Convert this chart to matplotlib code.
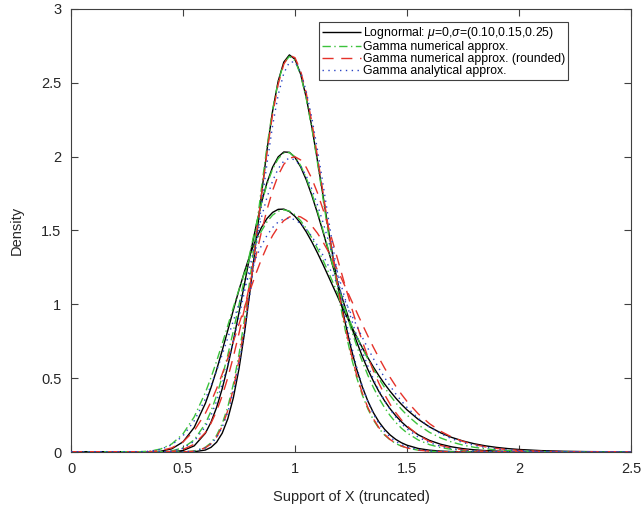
import matplotlib
matplotlib.use('Agg')
import matplotlib.pyplot as plt

# ---------------- data ----------------
x_support = [0, 0.3, 0.35, 0.4, 0.45, 0.5, 0.55,
             0.6, 0.625, 0.65, 0.675, 0.7, 0.725, 0.75, 0.775, 0.8, 0.825, 0.85, 0.875,
             0.9, 0.925, 0.95, 0.975, 1.0, 1.025, 1.05, 1.075, 1.1, 1.125, 1.15, 1.175,
             1.2, 1.225, 1.25, 1.275, 1.3, 1.325, 1.35, 1.375, 1.4, 1.425, 1.45, 1.475, 1.5,
             1.55, 1.6, 1.65, 1.7, 1.75, 1.8, 1.85, 1.9, 1.95, 2.0,
             2.1, 2.2, 2.3, 2.5]

# Lognormal (black, solid) - narrow, middle, wide curves
lognormal_narrow = [0, 0, 0, 0, 0, 0.0001, 0.0017,
    0.0134, 0.0314, 0.0662, 0.1272, 0.2248, 0.3685, 0.5637, 0.8100, 1.0996, 1.4165, 1.7398, 2.0453,
    2.3091, 2.5120, 2.6406, 2.6892, 2.6596, 2.5598, 2.4025, 2.2026, 1.9759, 1.7371, 1.4984, 1.2700,
    1.0588, 0.8694, 0.7036, 0.5619, 0.4432, 0.3455, 0.2663, 0.2031, 0.1535, 0.1149, 0.0853, 0.0628, 0.0459,
    0.0240, 0.0123, 0.0061, 0.0030, 0.0014, 0.0007, 0.0003, 0.0001, 0.0001, 0,
    0, 0, 0, 0]
lognormal_middle = [0, 0, 0, 0.0001, 0.0015, 0.0098, 0.0416,
    0.1274, 0.2017, 0.3017, 0.4285, 0.5811, 0.7554, 0.9452, 1.1426, 1.3381, 1.5223, 1.6869, 1.8243,
    1.9292, 1.9987, 2.0318, 2.0296, 1.9947, 1.9313, 1.8440, 1.7381, 1.6187, 1.4908, 1.3587, 1.2264,
    1.0971, 0.9731, 0.8564, 0.7481, 0.6491, 0.5595, 0.4794, 0.4084, 0.3461, 0.2918, 0.2449, 0.2047, 0.1703,
    0.1166, 0.0788, 0.0526, 0.0348, 0.0227, 0.0148, 0.0095, 0.0061, 0.0039, 0.0025,
    0.0010, 0.0004, 0.0002, 0]
lognormal_wide = [0, 0.0001, 0.0007, 0.0048, 0.0216, 0.0683, 0.1663,
    0.3298, 0.4361, 0.5563, 0.6870, 0.8240, 0.9624, 1.0974, 1.2245, 1.3393, 1.4386, 1.5198, 1.5813,
    1.6224, 1.6433, 1.6448, 1.6283, 1.5958, 1.5493, 1.4911, 1.4236, 1.3490, 1.2695, 1.1869, 1.1030,
    1.0193, 0.9370, 0.8571, 0.7805, 0.7078, 0.6392, 0.5751, 0.5157, 0.4608, 0.4105, 0.3647, 0.3231, 0.2855,
    0.2215, 0.1704, 0.1301, 0.0987, 0.0745, 0.0559, 0.0418, 0.0311, 0.0231, 0.0171,
    0.0093, 0.0050, 0.0027, 0.0008]

# Gamma numerical approx. (green, dash-dot)
gamma_num_narrow = [0, 0, 0, 0, 0.0001, 0.0010, 0.0068,
    0.0322, 0.0625, 0.1128, 0.1912, 0.3052, 0.4610, 0.6616, 0.9047, 1.1826, 1.4818, 1.7844, 2.0697,
    2.3170, 2.5089, 2.6320, 2.6794, 2.6513, 2.5534, 2.3963, 2.1945, 1.9632, 1.7173, 1.4705, 1.2337,
    1.0149, 0.8194, 0.6496, 0.5063, 0.3880, 0.2926, 0.2173, 0.1590, 0.1147, 0.0816, 0.0573, 0.0397, 0.0272,
    0.0123, 0.0053, 0.0022, 0.0009, 0.0003, 0.0001, 0, 0, 0, 0,
    0, 0, 0, 0]
gamma_num_middle = [0, 0, 0.0002, 0.0016, 0.0077, 0.0284, 0.0818,
    0.1924, 0.2765, 0.3820, 0.5093, 0.6568, 0.8210, 0.9970, 1.1786, 1.3584, 1.5289, 1.6827, 1.8136,
    1.9161, 1.9869, 2.0240, 2.0274, 1.9986, 1.9405, 1.8570, 1.7528, 1.6329, 1.5022, 1.3654, 1.2270,
    1.0904, 0.9590, 0.8348, 0.7198, 0.6148, 0.5204, 0.4367, 0.3634, 0.3000, 0.2458, 0.1999, 0.1613, 0.1294,
    0.0815, 0.0500, 0.0300, 0.0176, 0.0101, 0.0057, 0.0031, 0.0017, 0.0009, 0.0005,
    0.0001, 0, 0, 0]
gamma_num_wide = [0, 0.0012, 0.0058, 0.0200, 0.0546, 0.1230, 0.2374,
    0.4031, 0.5041, 0.6149, 0.7332, 0.8559, 0.9798, 1.1012, 1.2167, 1.3228, 1.4168, 1.4961, 1.5590,
    1.6041, 1.6311, 1.6400, 1.6314, 1.6065, 1.5669, 1.5142, 1.4507, 1.3782, 1.2991, 1.2151, 1.1283,
    1.0405, 0.9531, 0.8675, 0.7847, 0.7056, 0.6309, 0.5610, 0.4963, 0.4367, 0.3825, 0.3333, 0.2892, 0.2498,
    0.1840, 0.1334, 0.0953, 0.0671, 0.0466, 0.0320, 0.0217, 0.0145, 0.0096, 0.0063,
    0.0027, 0.0011, 0.0004, 0.0001]

# Gamma numerical approx. rounded (red, dashed)
gamma_round_narrow = [0, 0, 0, 0, 0.0001, 0.0008, 0.0057,
    0.0281, 0.0553, 0.1013, 0.1738, 0.2810, 0.4292, 0.6224, 0.8593, 1.1334, 1.4319, 1.7374, 2.0293,
    2.2864, 2.4903, 2.6265, 2.6869, 2.6704, 2.5821, 2.4318, 2.2342, 2.0042, 1.7575, 1.5080, 1.2673,
    1.0440, 0.8438, 0.6696, 0.5220, 0.4002, 0.3019, 0.2242, 0.1639, 0.1182, 0.0840, 0.0589, 0.0408, 0.0279,
    0.0126, 0.0054, 0.0022, 0.0009, 0.0003, 0.0001, 0, 0, 0, 0,
    0, 0, 0, 0]
gamma_round_middle = [0, 0, 0.0001, 0.0008, 0.0043, 0.0170, 0.0525,
    0.1316, 0.1949, 0.2773, 0.3800, 0.5034, 0.6458, 0.8043, 0.9742, 1.1495, 1.3238, 1.4899, 1.6409,
    1.7707, 1.8743, 1.9480, 1.9898, 1.9994, 1.9779, 1.9277, 1.8523, 1.7560, 1.6433, 1.5190, 1.3876,
    1.2533, 1.1197, 0.9901, 0.8667, 0.7515, 0.6455, 0.5497, 0.4640, 0.3884, 0.3227, 0.2659, 0.2175, 0.1767,
    0.1142, 0.0719, 0.0442, 0.0265, 0.0156, 0.0090, 0.0051, 0.0028, 0.0015, 0.0008,
    0.0002, 0, 0, 0]
gamma_round_wide = [0, 0.0004, 0.0024, 0.0092, 0.0279, 0.0687, 0.1438,
    0.2628, 0.3401, 0.4288, 0.5277, 0.6352, 0.7488, 0.8657, 0.9829, 1.0972, 1.2055, 1.3047, 1.3923,
    1.4661, 1.5246, 1.5666, 1.5917, 1.6000, 1.5920, 1.5688, 1.5316, 1.4822, 1.4224, 1.3541, 1.2792,
    1.1995, 1.1168, 1.0328, 0.9489, 0.8664, 0.7862, 0.7094, 0.6365, 0.5681, 0.5044, 0.4455, 0.3916, 0.3427,
    0.2589, 0.1923, 0.1405, 0.1012, 0.0718, 0.0503, 0.0348, 0.0238, 0.0161, 0.0108,
    0.0047, 0.0020, 0.0008, 0.0001]

# Gamma analytical approx. (blue, dotted)
gamma_anal_narrow = [0, 0, 0, 0, 0.0001, 0.0008, 0.0058,
    0.0277, 0.0541, 0.0983, 0.1678, 0.2701, 0.4114, 0.5955, 0.8217, 1.0840, 1.3714, 1.6677, 1.9540,
    2.2103, 2.4187, 2.5649, 2.6401, 2.6417, 2.5732, 2.4431, 2.2638, 2.0493, 1.8145, 1.5727, 1.3358,
    1.1127, 0.9097, 0.7306, 0.5767, 0.4477, 0.3421, 0.2575, 0.1909, 0.1396, 0.1006, 0.0716, 0.0503, 0.0349,
    0.0162, 0.0072, 0.0031, 0.0013, 0.0005, 0.0002, 0.0001, 0, 0, 0,
    0, 0, 0, 0]
gamma_anal_middle = [0, 0, 0.0002, 0.0014, 0.0068, 0.0251, 0.0726,
    0.1717, 0.2477, 0.3438, 0.4605, 0.5969, 0.7502, 0.9165, 1.0900, 1.2645, 1.4329, 1.5883, 1.7245,
    1.8358, 1.9185, 1.9702, 1.9898, 1.9781, 1.9373, 1.8703, 1.7814, 1.6746, 1.5550, 1.4269, 1.2945,
    1.1617, 1.0317, 0.9072, 0.7901, 0.6818, 0.5831, 0.4945, 0.4159, 0.3470, 0.2873, 0.2362, 0.1927, 0.1562,
    0.1006, 0.0632, 0.0388, 0.0233, 0.0137, 0.0079, 0.0045, 0.0025, 0.0014, 0.0007,
    0.0002, 0, 0, 0]
gamma_anal_wide = [0, 0.0011, 0.0053, 0.0181, 0.0488, 0.1095, 0.2110,
    0.3592, 0.4502, 0.5508, 0.6591, 0.7726, 0.8885, 1.0037, 1.1150, 1.2197, 1.3146, 1.3975, 1.4666,
    1.5203, 1.5578, 1.5789, 1.5837, 1.5729, 1.5476, 1.5092, 1.4593, 1.3996, 1.3320, 1.2583, 1.1803,
    1.0996, 1.0178, 0.9363, 0.8560, 0.7781, 0.7035, 0.6326, 0.5660, 0.5038, 0.4463, 0.3936, 0.3456, 0.3021,
    0.2280, 0.1694, 0.1241, 0.0896, 0.0639, 0.0450, 0.0313, 0.0216, 0.0147, 0.0099,
    0.0044, 0.0019, 0.0008, 0.0001]

series_labels = [r'Lognormal: $\mu$=0,$\sigma$=(0.10,0.15,0.25)',
                 'Gamma numerical approx.',
                 'Gamma numerical approx. (rounded)',
                 'Gamma analytical approx.']
x_ticks = [0, 0.5, 1, 1.5, 2, 2.5]
x_tick_labels = ['0', '0.5', '1', '1.5', '2', '2.5']
y_ticks = [0, 0.5, 1, 1.5, 2, 2.5, 3]
y_tick_labels = ['0', '0.5', '1', '1.5', '2', '2.5', '3']
x_label = 'Support of X (truncated)'
y_label = 'Density'

# ---------------- style ----------------
plt.rcParams['font.family'] = ['Liberation Sans', 'DejaVu Sans']
plt.rcParams['mathtext.fontset'] = 'custom'
plt.rcParams['mathtext.it'] = 'Liberation Sans:italic'
plt.rcParams['mathtext.rm'] = 'Liberation Sans'

axis_col = '#404040'
text_col = '#262626'
c_black = '#000000'
c_green = '#3cc23c'
c_red = '#e5322a'
c_blue = '#2a44c4'

fig = plt.figure(figsize=(6.43, 5.14), dpi=100)
ax = fig.add_axes([71 / 643, 1 - 452 / 514, (631 - 71) / 643, (452 - 9) / 514])

lw = 1.0
groups = [
    (lognormal_narrow, gamma_num_narrow, gamma_round_narrow, gamma_anal_narrow),
    (lognormal_middle, gamma_num_middle, gamma_round_middle, gamma_anal_middle),
    (lognormal_wide, gamma_num_wide, gamma_round_wide, gamma_anal_wide),
]
handles = None
for ln_y, gn_y, gr_y, ga_y in groups:
    h1, = ax.plot(x_support, ln_y, color=c_black, lw=lw, solid_capstyle='butt', zorder=3)
    h2, = ax.plot(x_support, gn_y, color=c_green, lw=lw, dashes=(6, 2.5, 1, 2.5), zorder=4)
    h3, = ax.plot(x_support, gr_y, color=c_red, lw=lw, dashes=(8, 5.5), zorder=5)
    h4, = ax.plot(x_support, ga_y, color=c_blue, lw=lw, dashes=(1, 3.2), zorder=6)
    if handles is None:
        handles = [h1, h2, h3, h4]

ax.set_xlim(0, 2.5)
ax.set_ylim(0, 3)
ax.set_xticks(x_ticks)
ax.set_xticklabels(x_tick_labels)
ax.set_yticks(y_ticks)
ax.set_yticklabels(y_tick_labels)
ax.tick_params(direction='in', length=5, width=0.8, colors=axis_col,
               labelcolor=text_col, labelsize=10.5, top=True, right=True, pad=7)
for s in ax.spines.values():
    s.set_color(axis_col)
    s.set_linewidth(0.8)

ax.set_xlabel(x_label, fontsize=10.5, color=text_col, labelpad=10)
ax.set_ylabel(y_label, fontsize=10.5, color=text_col, labelpad=12)

leg = ax.legend(handles, series_labels, loc='upper center',
                bbox_to_anchor=((443.5 - 71) / 560, (452 - 22) / 443),
                prop={'size': 8.8}, frameon=True, fancybox=False, framealpha=1,
                edgecolor=axis_col, borderpad=0.25, labelspacing=0.0,
                handlelength=3.2, handletextpad=0.2, borderaxespad=0)
leg.get_frame().set_linewidth(0.8)
for t in leg.get_texts():
    t.set_color('#000000')

fig.savefig('out.png', dpi=100)
